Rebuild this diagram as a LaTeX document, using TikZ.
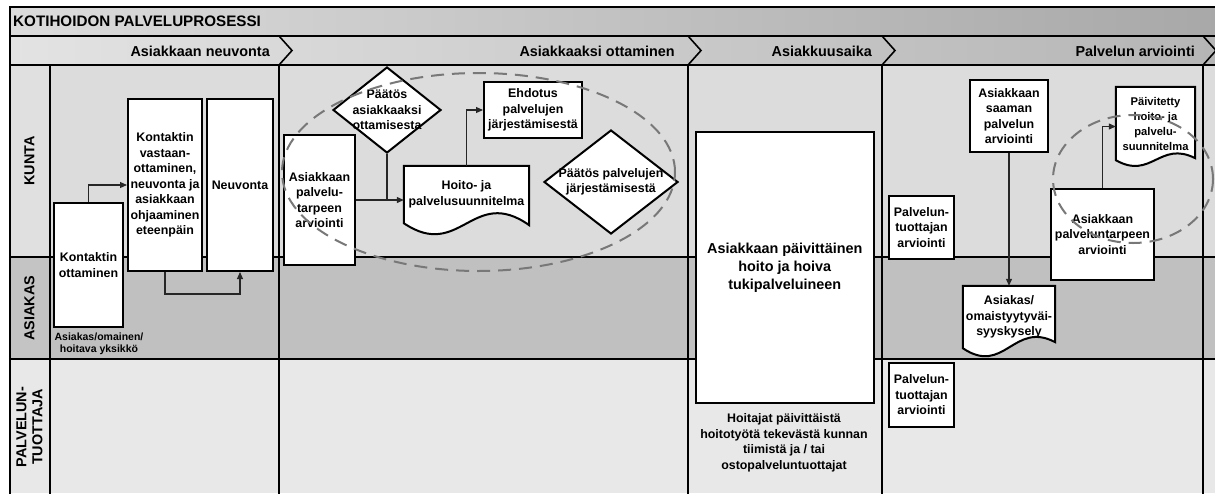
\documentclass[tikz,border=0pt]{standalone}
\usepackage{fontspec}
\setmainfont{Liberation Sans}
\usetikzlibrary{shapes.geometric,arrows.meta,calc}

\definecolor{lanekunta}{HTML}{DCDCDC}
\definecolor{laneasiakas}{HTML}{C0C0C0}
\definecolor{lanetuottaja}{HTML}{E8E8E8}
\definecolor{hdkunta}{HTML}{E0E0E0}
\definecolor{hdasiakas}{HTML}{C4C4C4}
\definecolor{ringgray}{HTML}{787878}

\newcommand\bodyfont{\fontsize{12.4}{15.5}\selectfont\bfseries}
\newcommand\docfont{\fontsize{11.2}{15}\selectfont\bfseries}
\newcommand\notefont{\fontsize{10.5}{12}\selectfont\bfseries}
\newcommand\bigfont{\fontsize{14.4}{18}\selectfont\bfseries}
\newcommand\headfont{\fontsize{14.4}{16}\selectfont\bfseries}
\newcommand\titlefont{\fontsize{15.2}{17}\selectfont\bfseries}

\pgfdeclarelayer{lanes}
\pgfdeclarelayer{shapes}
\pgfsetlayers{lanes,shapes,main}

\tikzset{
  frame/.style={draw=black, line width=2pt},
  box/.style={draw=black, line width=2pt, fill=white, inner sep=1pt,
              align=center, font=\bodyfont},
  docbox/.style={inner sep=1pt, align=center, font=\bodyfont},
  decision/.style={diamond, draw=black, line width=2pt, fill=white, inner sep=0pt},
  decisiontext/.style={align=center, font=\bodyfont, inner sep=0pt},
  flow/.style={draw=black!85, line width=1.1pt, -{Triangle[length=7pt,width=6pt]}},
  joinline/.style={draw=black!85, line width=1.1pt},
  groupring/.style={ellipse, draw=ringgray, line width=2pt,
                    dash pattern=on 13pt off 8pt, inner sep=0pt},
  lanelabel/.style={rotate=90, font=\headfont, align=center, inner sep=0pt},
  phaselabel/.style={anchor=east, font=\headfont, inner sep=0pt},
}

% outline of a document symbol: node, width, wave depth, rise of right end
\newcommand\docoutline[4]{%
  \filldraw[fill=white, draw=black, line width=2pt, line join=miter]
    (#1.south west) -- (#1.north west) -- (#1.north east)
    -- ($(#1.south east)+(0,-#4)$)
    .. controls ($(#1.south east)+(-0.45*#2,-#3)$) and ($(#1.south west)+(0.45*#2,#3)$)
    .. (#1.south west) -- cycle;}

\begin{document}
\begin{tikzpicture}[x=1pt,y=-1pt]
\useasboundingbox (0,0) rectangle (1215,493);

% ---------- swimlane frame ----------
\begin{pgfonlayer}{lanes}
  \fill[white] (0,0) rectangle (1215,493);
  \shade[left color=black!14, right color=black!34] (10,7) rectangle (1215,36);
  \shade[left color=black!11, right color=black!29] (10,36) rectangle (1215,65);
  \fill[hdkunta] (10,65) rectangle (49.5,257);
  \fill[hdasiakas] (10,257) rectangle (49.5,359);
  \fill[lanetuottaja] (10,359) rectangle (49.5,493);
  \fill[lanekunta] (49.5,65) rectangle (1215,257);
  \fill[laneasiakas] (49.5,257) rectangle (1215,359);
  \fill[lanetuottaja] (49.5,359) rectangle (1215,493);
  \foreach \yy in {7,36,65,257,359} \draw[frame] (10,\yy) -- (1216,\yy);
  \draw[frame] (10,6) -- (10,494);
  \draw[frame] (49.5,65) -- (49.5,494);
  \foreach \xx in {279,688,882,1203} {
    \draw[frame] (\xx,65) -- (\xx,494);
    \draw[black, line width=1.6pt, line join=miter] (\xx,36) -- (\xx+13,50.5) -- (\xx,65);
  }
\end{pgfonlayer}

% ---------- headers ----------
\node[anchor=west, font=\titlefont, inner sep=0pt] (title) at (13,21.5) {KOTIHOIDON PALVELUPROSESSI};
\node[phaselabel] (ph1) at (270,51) {Asiakkaan neuvonta};
\node[phaselabel] (ph2) at (675,51) {Asiakkaaksi ottaminen};
\node[phaselabel] (ph3) at (872,51) {Asiakkuusaika};
\node[phaselabel] (ph4) at (1195,51) {Palvelun arviointi};
\node[lanelabel] (l1) at (29.5,161) {KUNTA};
\node[lanelabel] (l2) at (29.5,308) {ASIAKAS};
\node[lanelabel] (l3) at (29.5,427) {PALVELUN-\\TUOTTAJA};

% ---------- Asiakkaan neuvonta ----------
\node[box, minimum width=69, minimum height=124] (kontakti) at (88.5,265) {Kontaktin\\ottaminen};
\node[font=\notefont, align=center, inner sep=0pt] (kontaktinote) at (99,344) {Asiakas/omainen/\\hoitava yksikkö};
\node[box, minimum width=74, minimum height=172] (vastaan) at (165,185)
  {Kontaktin\\vastaan-\\ottaminen,\\neuvonta ja\\asiakkaan\\ohjaaminen\\eteenpäin};
\node[box, minimum width=66, minimum height=172] (neuvonta) at (240,185) {Neuvonta};
\draw[flow] (kontakti.north) |- (vastaan.west);
\draw[flow] (vastaan.south) -- ++(0,22) -| (neuvonta.south);

% ---------- Asiakkaaksi ottaminen ----------
\node[box, minimum width=71, minimum height=130] (tarve) at (319.5,200)
  {Asiakkaan\\palvelu-\\tarpeen\\arviointi};
\node[decision, minimum width=108, minimum height=86,
      label={[decisiontext]center:{Päätös\\asiakkaaksi\\ottamisesta}}] (paatos1) at (387,110) {};
\node[docbox, minimum width=125, minimum height=57] (hoito) at (466.5,194.5)
  {Hoito- ja\\palvelusuunnitelma};
\begin{pgfonlayer}{shapes}\docoutline{hoito}{125}{38}{-2}\end{pgfonlayer}
\node[box, minimum width=98, minimum height=56] (ehdotus) at (533,110)
  {Ehdotus\\palvelujen\\järjestämisestä};
\node[decision, minimum width=134, minimum height=104,
      label={[decisiontext]center:{Päätös palvelujen\\järjestämisestä}}] (paatos2) at (611,182) {};
\draw[flow] (tarve.east) -- (tarve.east -| hoito.west);
\draw[joinline] (paatos1.south) -- (paatos1.south |- tarve.east);
\draw[flow] (hoito.north) |- (ehdotus.west);
\node[groupring, minimum width=393, minimum height=198] (ring1) at (478.5,172) {};

% ---------- Asiakkuusaika ----------
\node[box, font=\bigfont, minimum width=177.5, minimum height=271] (paivittainen) at (784.75,267.5)
  {Asiakkaan päivittäinen\\hoito ja hoiva\\tukipalveluineen};
\node[font=\bodyfont, align=center, inner sep=0pt] (hoitajat) at (784,443)
  {Hoitajat päivittäistä\\hoitotyötä tekevästä kunnan\\tiimistä ja / tai\\ostopalveluntuottajat};

% ---------- Palvelun arviointi ----------
\node[box, minimum width=65, minimum height=63] (ptarv1) at (921.5,227.5)
  {Palvelun-\\tuottajan\\arviointi};
\node[box, minimum width=65, minimum height=64] (ptarv2) at (921.5,395)
  {Palvelun-\\tuottajan\\arviointi};
\node[box, minimum width=78, minimum height=72] (saaman) at (1009,116)
  {Asiakkaan\\saaman\\palvelun\\arviointi};
\node[docbox, minimum width=92, minimum height=62] (kysely) at (1009,317)
  {Asiakas/\\omaistyytyväi-\\syyskysely};
\begin{pgfonlayer}{shapes}\docoutline{kysely}{92}{28}{6}\end{pgfonlayer}
\node[box, minimum width=103, minimum height=91] (ptarve) at (1102.5,234.5)
  {Asiakkaan\\palveluntarpeen\\arviointi};
\node[docbox, font=\docfont, minimum width=79, minimum height=73] (paivitetty) at (1155.5,123.5)
  {Päivitetty\\hoito- ja\\palvelu-\\suunnitelma};
\begin{pgfonlayer}{shapes}\docoutline{paivitetty}{79}{20}{2}\end{pgfonlayer}
\draw[flow] (saaman.south) -- (kysely.north);
\draw[flow] (ptarve.north) |- ([yshift=-3pt]paivitetty.west);
\node[groupring, minimum width=160, minimum height=128] (ring2) at (1133,179) {};

\end{tikzpicture}
\end{document}
